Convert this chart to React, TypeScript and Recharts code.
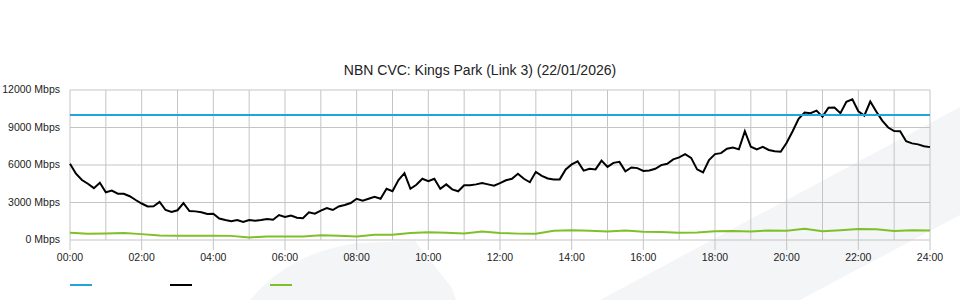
import React from 'react'
import {LineChart, Line, XAxis, YAxis, CartesianGrid} from 'recharts'

const title = 'NBN CVC: Kings Park (Link 3) (22/01/2026)'

// x axis is minutes since midnight
const xTicks = [0, 120, 240, 360, 480, 600, 720, 840, 960, 1080, 1200, 1320, 1440]
const xLabels = ['00:00', '02:00', '04:00', '06:00', '08:00', '10:00', '12:00', '14:00', '16:00', '18:00', '20:00', '22:00', '24:00']
const hourTicks = [0, 60, 120, 180, 240, 300, 360, 420, 480, 540, 600, 660, 720, 780, 840, 900, 960, 1020, 1080, 1140, 1200, 1260, 1320, 1380, 1440]
const yTicks = [0, 3000, 6000, 9000, 12000]

const capacityMbps = 10000

// traffic, one reading every 10 minutes (12 per row = 2 hours)
const trafficMbps = [
  6100, 5300, 4800, 4500, 4150, 4580, 3820, 3950, 3700, 3700, 3500, 3200,
  2920, 2680, 2700, 3050, 2400, 2250, 2380, 2950, 2320, 2290, 2220, 2080,
  2100, 1720, 1600, 1510, 1600, 1450, 1600, 1550, 1600, 1680, 1620, 2000,
  1850, 1950, 1780, 1750, 2220, 2100, 2350, 2550, 2400, 2680, 2800, 2960,
  3300, 3150, 3300, 3450, 3300, 4100, 3900, 4800, 5350, 4100, 4420, 4900,
  4700, 4900, 4100, 4450, 4050, 3900, 4380, 4380, 4450, 4550, 4450, 4350,
  4550, 4780, 4900, 5300, 4900, 4620, 5450, 5130, 4920, 4850, 4850, 5650,
  6050, 6300, 5550, 5700, 5650, 6350, 5850, 6170, 6250, 5500, 5800, 5750,
  5530, 5560, 5700, 5990, 6100, 6450, 6610, 6870, 6570, 5650, 5400, 6400,
  6870, 6950, 7300, 7400, 7250, 8700, 7460, 7250, 7450, 7200, 7100, 7060,
  7780, 8700, 9690, 10200, 10150, 10350, 9870, 10580, 10600, 10150, 11050, 11250,
  10300, 9950, 11080, 10280, 9550, 9000, 8720, 8700, 7900, 7730, 7650, 7500,
  7430,
]

// second series, one reading every 30 minutes
const lowerMbps = [
  580, 500, 520, 560, 470, 360, 340, 340, 340, 330, 200, 280,
  280, 280, 380, 340, 280, 420, 420, 560, 620, 580, 520, 680,
  560, 510, 500, 740, 780, 740, 680, 760, 660, 640, 580, 600,
  700, 720, 690, 760, 740, 900, 700, 780, 880, 860, 720, 780,
  760,
]

const trafficData = trafficMbps.map((v, i) => ({t: i * 10, v}))
const lowerData = lowerMbps.map((v, i) => ({t: i * 30, v}))
const capacityData = [{t: 0, v: capacityMbps}, {t: 1440, v: capacityMbps}]

const BLUE = '#22a3dc'
const GREEN = '#7fc02a'
const GRID = '#c4c4c4'
const TEXT = '#222'

const legendColors = [BLUE, '#000', GREEN]

function YTick(props: any) {
  const {x, y, payload} = props
  return (
    <text x={x} y={y} dy="0.3em" textAnchor="end" fontSize={10.5} fill={TEXT}>
      {`${payload.value} Mbps`}
    </text>
  )
}

function XTick(props: any) {
  const {x, y, payload} = props
  return (
    <text x={x} y={y} dy="0.72em" textAnchor="middle" fontSize={10.5} fill={TEXT}>
      {xLabels[xTicks.indexOf(payload.value)]}
    </text>
  )
}

// vertical grid every hour, placed with the x axis scale
function hourLines({xAxis, offset}: any) {
  const scale = xAxis && xAxis.scale
  return hourTicks.map(t =>
    typeof scale === 'function' ? scale(t) : offset.left + (t / 1440) * offset.width
  )
}

export default function App() {
  return (
    <div style={{position: 'absolute', left: 0, top: 0, width: 960, height: 300, fontFamily: '"Liberation Sans", Arial, sans-serif', overflow: 'hidden'}}>
      <svg width={960} height={300} style={{position: 'absolute', left: 0, top: 0}}>
        <path d="M250,300 Q290,252 358,243 L415,241 L452,288 L456,300 Z" fill="#f4f5f7" />
        <path d="M600,300 L960,107 L960,215 L800,300 Z" fill="#f4f5f7" />
      </svg>
      <div style={{position: 'absolute', left: 0, top: 61, width: 960, textAlign: 'center', fontSize: 14, lineHeight: '18px', color: TEXT}}>
        {title}
      </div>
      <div style={{position: 'absolute', left: 0, top: 0}}>
        <LineChart width={960} height={300} margin={{top: 90, right: 30, bottom: 30, left: 0}}>
          <CartesianGrid stroke={GRID} verticalCoordinatesGenerator={hourLines} />
          <XAxis
            type="number"
            dataKey="t"
            domain={[0, 1440]}
            ticks={xTicks}
            axisLine={false}
            tickLine={{stroke: GRID}}
            tickSize={10}
            tickMargin={3}
            height={30}
            tick={<XTick />}
            interval={0}
          />
          <YAxis
            type="number"
            domain={[0, 12000]}
            ticks={yTicks}
            axisLine={false}
            tickLine={false}
            tickSize={0}
            tickMargin={10}
            width={70}
            tick={<YTick />}
            interval={0}
          />
          <Line data={lowerData} dataKey="v" type="linear" stroke={GREEN} strokeWidth={2} dot={false} isAnimationActive={false} />
          <Line data={trafficData} dataKey="v" type="linear" stroke="#000" strokeWidth={2} dot={false} isAnimationActive={false} />
          <Line data={capacityData} dataKey="v" type="linear" stroke={BLUE} strokeWidth={2} dot={false} isAnimationActive={false} />
        </LineChart>
      </div>
      {legendColors.map((c, i) => (
        <div key={c} style={{position: 'absolute', left: 70 + i * 100, top: 284, width: 22, height: 2, background: c}} />
      ))}
    </div>
  )
}
